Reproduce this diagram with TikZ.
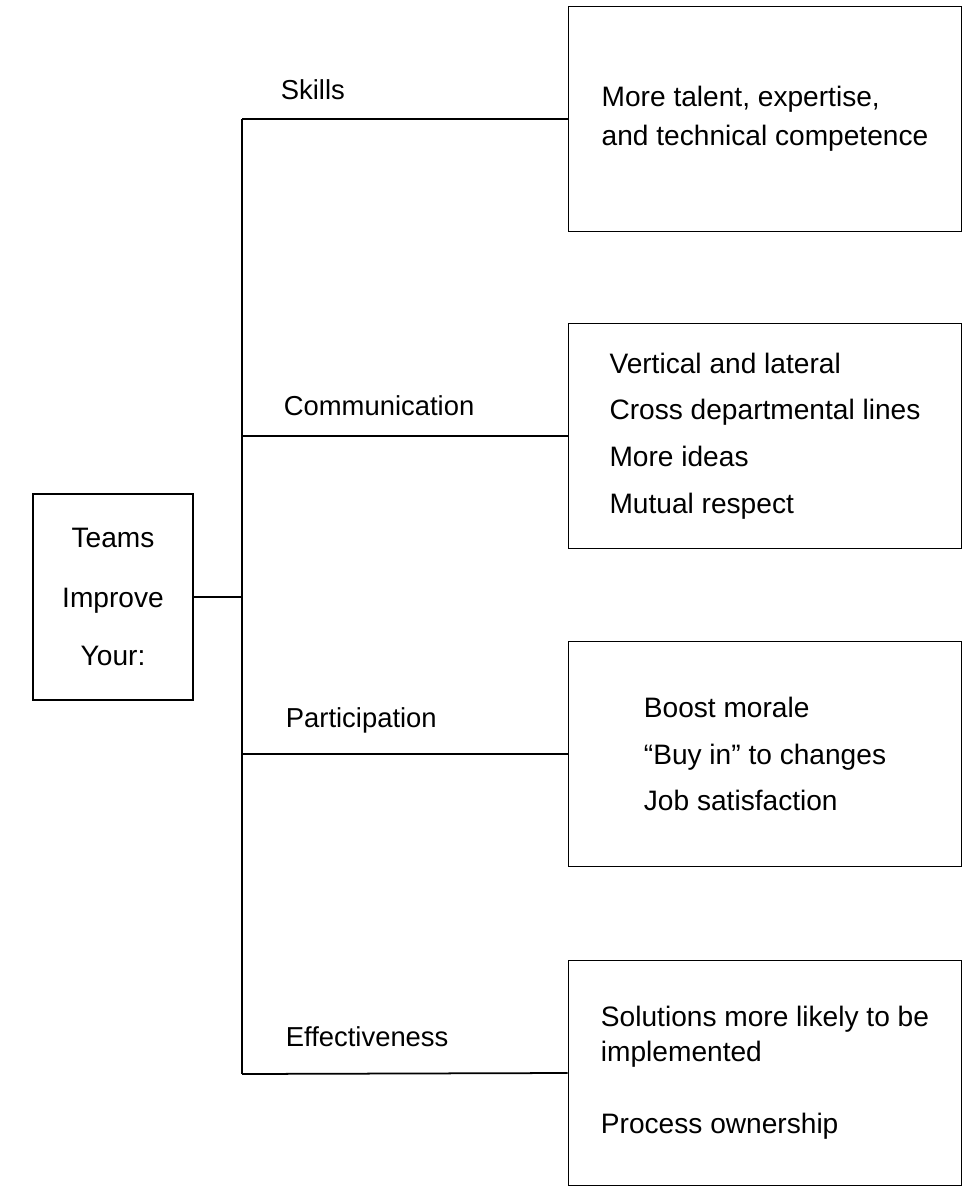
\documentclass[tikz,border=0pt]{standalone}
\usepackage{fontspec}
\setmainfont{Liberation Sans}
\usepackage{tikz}
\usetikzlibrary{positioning}

\begin{document}
\begin{tikzpicture}[
  x=0.02cm, y=-0.02cm,
  line width=1pt,
  box/.style={
    rectangle, draw, minimum width=7.86cm, minimum height=4.5cm,
    align=left, font=\fontsize{16}{19}\selectfont, inner sep=0pt
  },
  root/.style={
    rectangle, draw, minimum width=3.2cm, minimum height=4.12cm,
    align=center, font=\fontsize{16}{19}\selectfont
  },
  lbl/.style={anchor=base west, font=\fontsize{15.6}{18}\selectfont, inner sep=0pt}
]
\useasboundingbox (0,0) rectangle (969,1199);

% root box and spine
\node[root] (teams) at (113,597) {Teams\\[15pt]Improve\\[14pt]Your:};
\coordinate (mid) at (242,597);
\coordinate (top) at (242,119);
\coordinate (bot) at (242,1074);

% outcome boxes
\node[box] (skills) at (765,119)
  {More talent, expertise,\\[3pt]and technical competence};
\node[box] (comm) at (765,436)
  {Vertical and lateral\\[7.5pt]Cross departmental lines\\[7.5pt]More ideas\\[7.5pt]Mutual respect};
\node[box] (part) at (765,754)
  {Boost morale\\[7.5pt]“Buy in” to changes\\[7.5pt]Job satisfaction};
\node[box] (eff) at (765,1073)
  {Solutions more likely to be\\[1pt]implemented\\[22pt]Process ownership};

\coordinate (cb) at (242,436);
\coordinate (pb) at (242,754);

\draw (teams) -- (mid);
\draw (top) -- (bot);
\draw (top) -- (skills.west);
\draw (cb) -- (comm.west);
\draw (pb) -- (part.west);
\draw (bot) -- (eff.west);

% branch labels
\node[lbl] (lskills) at (280,100) {Skills};
\node[lbl] (lcomm) at (283,415) {Communication};
\node[lbl] (lpart) at (285,727) {Participation};
\node[lbl] (leff) at (285,1046) {Effectiveness};

\end{tikzpicture}
\end{document}
